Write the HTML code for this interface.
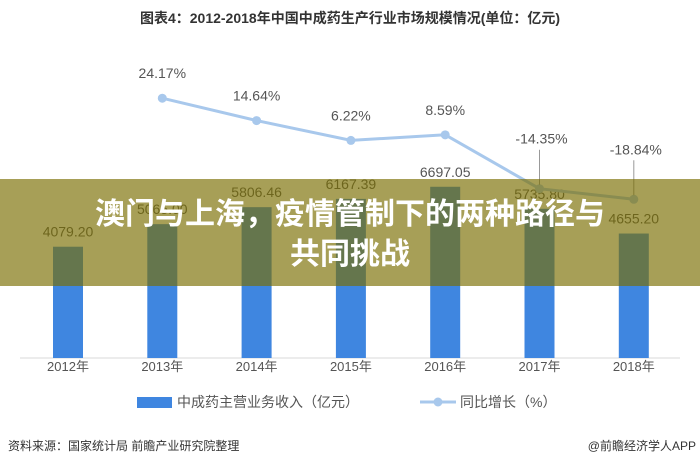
<!DOCTYPE html>
<html><head><meta charset="utf-8"><style>
body{margin:0;width:700px;height:468px;background:#fff;overflow:hidden;font-family:"Liberation Sans","Noto Sans CJK SC",sans-serif;}
svg{display:block}
</style></head><body>
<svg width="700" height="468" id="chart">
<text x="350" y="23" text-anchor="middle" font-size="14" font-weight="bold" fill="#333">图表4：2012-2018年中国中成药生产行业市场规模情况(单位：亿元)</text>
<line x1="20" y1="358" x2="680" y2="358" stroke="#d9d9d9"/>
<g id="bars"></g><g id="line"></g><g id="xlabels"></g>
<rect x="0" y="179" width="700" height="107" fill="rgb(122,110,0)" fill-opacity="0.66"/>
<text x="350" y="224" text-anchor="middle" font-size="30" font-weight="bold" fill="#fff">澳门与上海，疫情管制下的两种路径与</text>
<text x="350" y="264" text-anchor="middle" font-size="30" font-weight="bold" fill="#fff">共同挑战</text>
<rect x="137" y="397" width="35" height="11" fill="#3f86e0"/>
<text x="177" y="407" font-size="14" fill="#555">中成药主营业务收入（亿元）</text>
<line x1="420" y1="402" x2="456" y2="402" stroke="#a8c8ec" stroke-width="3"/>
<circle cx="438" cy="402" r="4.5" fill="#a8c8ec"/>
<text x="460" y="407" font-size="14" fill="#555">同比增长（%）</text>
<text x="8" y="450" font-size="12" fill="#333">资料来源：国家统计局 前瞻产业研究院整理</text>
<text x="696" y="450" text-anchor="end" font-size="12" fill="#333">@前瞻经济学人APP</text>
</svg>
<script>
const categories=["2012年","2013年","2014年","2015年","2016年","2017年","2018年"];
const revenue=[4079.20,5065.00,5806.46,6167.39,6697.05,5735.80,4655.20];
const revenueLabels=["4079.20","5065.00","5806.46","6167.39","6697.05","5735.80","4655.20"];
const growth=[null,24.17,14.64,6.22,8.59,-14.35,-18.84];
const growthLabels=["","24.17%","14.64%","6.22%","8.59%","-14.35%","-18.84%"];
const NS="http://www.w3.org/2000/svg";
const xC=i=>68+i*94.3;
const yBar=v=>358-(v+780)*0.0229;
const yLine=v=>155-v*2.35;
function mk(t,a,p){const e=document.createElementNS(NS,t);for(const k in a)e.setAttribute(k,a[k]);p.appendChild(e);return e;}
const bars=document.getElementById('bars'),line=document.getElementById('line'),xl=document.getElementById('xlabels');
revenue.forEach((v,i)=>{
 const r=mk('rect',{x:xC(i)-15,y:yBar(v),width:30,height:358-yBar(v),fill:'#3f86e0'},bars);
 
 
 const t=mk('text',{x:xC(i),y:yBar(v)-10,'text-anchor':'middle','font-size':14,fill:'#555'},bars);
 t.textContent=revenueLabels[i];
 
 
 const c=mk('text',{x:xC(i),y:371,'text-anchor':'middle','font-size':13,fill:'#555'},xl);
 c.textContent=categories[i];
 
 
});
let d='';growth.forEach((v,i)=>{if(v===null)return;d+=(d?'L':'M')+xC(i)+' '+yLine(v);});
const p=mk('path',{d:d,fill:'none',stroke:'#a8c8ec','stroke-width':3},line);


growth.forEach((v,i)=>{if(v===null)return;
 const c=mk('circle',{cx:xC(i),cy:yLine(v),r:4.5,fill:'#a8c8ec'},line);
 
 
 let ly=yLine(v)-20;
 if(v<0){ly=yLine(v)-45;const l=mk('line',{x1:xC(i),y1:ly+6,x2:xC(i),y2:yLine(v)-4,stroke:'#999','stroke-width':1},line);
  }
 const t=mk('text',{x:xC(i)+(v<0?2:0),y:ly,'text-anchor':'middle','font-size':14,fill:'#555'},line);
 t.textContent=growthLabels[i];
 
 
});
</script>
</body></html>
